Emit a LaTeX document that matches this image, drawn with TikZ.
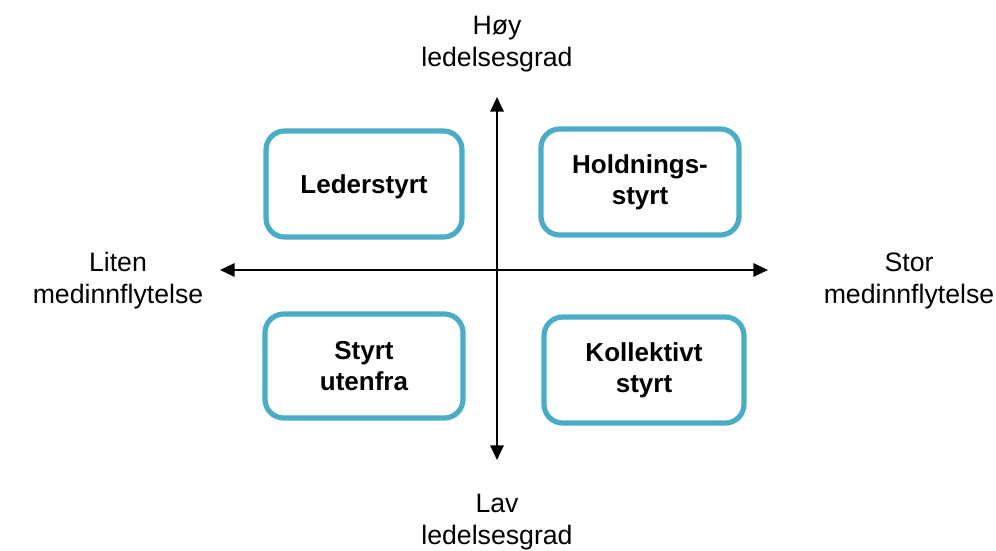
\documentclass[tikz,border=0pt]{standalone}
\usepackage{fontspec}
\setmainfont{Liberation Sans}
\usetikzlibrary{arrows.meta}
\definecolor{boxblue}{RGB}{75,172,198}
\begin{document}
\begin{tikzpicture}[x=0.75pt,y=-0.75pt,
  quad/.style={draw=boxblue,line width=3.9pt,rounded corners=14pt,fill=white,
    font=\fontsize{19.5pt}{23.5pt}\selectfont\bfseries,align=center,inner sep=0pt,
    execute at begin node={\rule{0pt}{18.6pt}}},
  axlabel/.style={font=\fontsize{20pt}{24pt}\selectfont,align=center,inner sep=0pt},
  axis/.style={line width=1.5pt,-{Triangle[length=11pt,width=10pt]}}]
\useasboundingbox (0,0) rectangle (996,550);
% boxes
\node[quad,minimum width=196*0.75pt,minimum height=106*0.75pt] (ul) at (364,184) {Lederstyrt};
\node[quad,minimum width=198*0.75pt,minimum height=106*0.75pt] (ur) at (640,182) {Holdnings-\\styrt};
\node[quad,minimum width=198*0.75pt,minimum height=104*0.75pt] (ll) at (364,366) {Styrt\\utenfra};
\node[quad,minimum width=200*0.75pt,minimum height=106*0.75pt] (lr) at (644,370) {Kollektivt\\styrt};
% axes
\coordinate (c) at (497,270);
\coordinate (left) at (220,270);
\coordinate (right) at (768,270);
\coordinate (top) at (497,97);
\coordinate (bot) at (497,460);
\draw[axis] (c) -- (left);
\draw[axis] (c) -- (right);
\draw[axis] (c) -- (top);
\draw[axis] (c) -- (bot);
% labels
\node[axlabel] (hoy) at (497,44) {Høy\\ledelsesgrad};
\node[axlabel] (lav) at (497,522) {Lav\\ledelsesgrad};
\node[axlabel] (liten) at (118,281) {Liten\\medinnflytelse};
\node[axlabel] (stor) at (909,281) {Stor\\medinnflytelse};
\end{tikzpicture}
\end{document}
